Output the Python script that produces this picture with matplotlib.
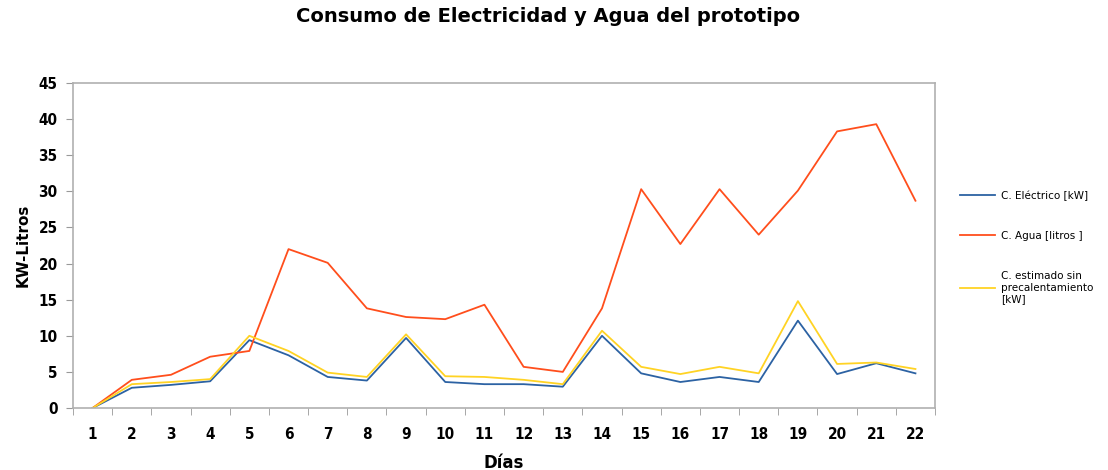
import numpy as np
import matplotlib
matplotlib.use("Agg")
import matplotlib.pyplot as plt
from matplotlib.ticker import MultipleLocator

# datos
dias = list(range(1, 23))
electrico = [0, 2.8, 3.2, 3.7, 9.4, 7.3, 4.3, 3.8, 9.7, 3.6, 3.3,
             3.3, 2.95, 10.0, 4.8, 3.6, 4.3, 3.6, 12.1, 4.7, 6.2, 4.8]
agua = [0, 3.9, 4.6, 7.1, 7.9, 22.0, 20.1, 13.8, 12.6, 12.3, 14.3,
        5.7, 5.0, 13.8, 30.3, 22.7, 30.3, 24.0, 30.1, 38.3, 39.3, 28.7]
estimado = [0, 3.3, 3.6, 4.0, 10.0, 7.9, 4.9, 4.3, 10.2, 4.4, 4.3,
            3.9, 3.3, 10.7, 5.7, 4.7, 5.7, 4.8, 14.8, 6.1, 6.3, 5.4]
etiquetas = ["C. Eléctrico [kW]", "C. Agua [litros ]",
             "C. estimado sin\nprecalentamiento\n[kW]"]
colores = ["#2C62A3", "#FF4E1C", "#FFD324"]

fig = plt.figure(figsize=(11.08, 4.7), dpi=100)
ax = fig.add_axes([0.0659, 0.1319, 0.778, 0.6915])

lineas = []
for serie, col, lab in zip([electrico, agua, estimado], colores, etiquetas):
    l, = ax.plot(dias, serie, color=col, lw=1.3, label=lab)
    lineas.append(l)

ax.set_xlim(0.5, 22.5)
ax.set_ylim(0, 45)
ax.yaxis.set_major_locator(MultipleLocator(5))
ax.set_xticks(dias)
ax.set_xticks(np.arange(0.5, 23, 1), minor=True)
ax.tick_params(axis="x", which="major", length=0, pad=14)
ax.tick_params(axis="x", which="minor", length=5, color="#999999", direction="out")
ax.tick_params(axis="y", length=5, color="#999999", direction="out", pad=6)
for lbl in ax.get_xticklabels() + ax.get_yticklabels():
    lbl.set_fontweight("bold")
    lbl.set_fontsize(11)
    lbl.set_fontstretch("condensed")

for s in ax.spines.values():
    s.set_color("#B0B0B0")
    s.set_linewidth(1.2)

ax.set_xlabel("Días", fontsize=12, fontweight="bold", labelpad=8)
ax.set_ylabel("KW-Litros", fontsize=11, fontweight="bold", labelpad=6)
fig.suptitle("Consumo de Electricidad y Agua del prototipo", x=0.495, y=0.985,
             fontsize=14, fontweight="bold")

fig.legend(handles=lineas, loc="upper left", bbox_to_anchor=(0.858, 0.615),
           frameon=False, fontsize=7.5, handlelength=3.4, labelspacing=2.9,
           handletextpad=0.5)

fig.savefig("out.png", dpi=100)
